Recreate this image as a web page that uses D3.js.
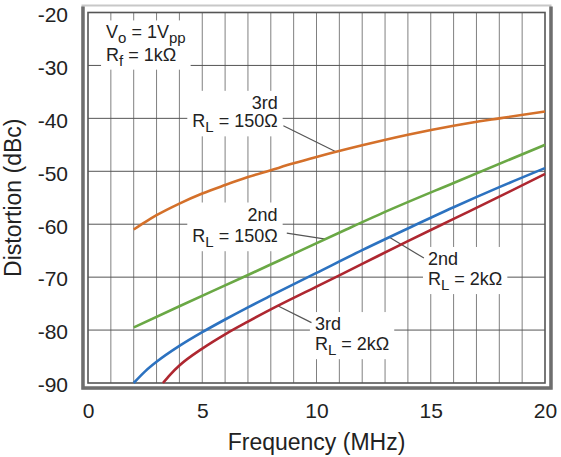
<!DOCTYPE html>
<html>
<head>
<meta charset="utf-8">
<script src="https://cdn.jsdelivr.net/npm/d3@7"></script>
<style>
  body { margin: 0; background: #fff; }
  svg { font-family: "Liberation Sans", Arial, sans-serif; }
</style>
</head>
<body>
<div id="chart"></div>
<script>
const width = 561,
  height = 457,
  margin = { top: 12.5, bottom: 74, left: 88, right: 16 };

// axis ticks
const freqTicks = [0, 5, 10, 15, 20];
const dbTicks = [-90, -80, -70, -60, -50, -40, -30, -20];

// 3rd harmonic, RL = 150 ohm
const freq3rd150 = [2, 2.5, 3, 4, 5, 6, 7, 8, 9, 10, 12, 14, 16, 18, 20];
const db3rd150 = [-61, -59.6, -58.3, -56.1, -54.2, -52.6, -51.1, -49.8, -48.5, -47.3, -45.1, -43.1, -41.4, -40, -38.7];

// 2nd harmonic, RL = 150 ohm
const freq2nd150 = [2, 4, 7, 8.4, 11.3, 13.2, 16, 20];
const db2nd150 = [-79.5, -75.5, -69.6, -66.8, -61, -57.3, -52.2, -45];

// 2nd harmonic, RL = 2k
const freq2nd2k = [2, 2.5, 3, 4, 5, 6, 7, 8, 10, 12, 14, 16, 18, 20];
const db2nd2k = [-90, -87.8, -86, -83, -80.4, -78, -75.7, -73.5, -69.2, -64.9, -60.8, -56.8, -53, -49.4];

// 3rd harmonic, RL = 2k
const freq3rd2k = [3.28, 3.6, 4, 5, 6, 7, 8, 10, 12, 14, 16, 18, 20];
const db3rd2k = [-90, -88.4, -86.7, -83.5, -80.8, -78.4, -76.1, -71.8, -67.5, -63.2, -59, -54.8, -50.5];

const seriesList = [
  { f: freq3rd150, db: db3rd150, color: "#d4702a" },
  { f: freq2nd150, db: db2nd150, color: "#6aa845" },
  { f: freq2nd2k, db: db2nd2k, color: "#2c72c0" },
  { f: freq3rd2k, db: db3rd2k, color: "#ae2730" }
];

const xScale = d3.scaleLinear().domain([0, 20]).range([margin.left, width - margin.right]);
const yScale = d3.scaleLinear().domain([-90, -20]).range([height - margin.bottom, margin.top]);

const svg = d3.select("#chart").append("svg")
  .attr("width", width)
  .attr("height", height);

// outer frame
const x0 = xScale(0), x1 = xScale(20), y0 = yScale(-20), y1 = yScale(-90);
svg.append("rect")
  .attr("x", x0 - 5.5).attr("y", y0 - 7)
  .attr("width", x1 - x0 + 11).attr("height", y1 - y0 + 12.5)
  .attr("fill", "none").attr("stroke", "#c8c8c8").attr("stroke-width", 2);
svg.append("path")
  .attr("d", `M${x0 - 5},${y0 - 6}V${y1 + 5}H${x1 + 6}V${y0 - 6}`)
  .attr("fill", "none").attr("stroke", "#6e6e6e").attr("stroke-width", 3.5);

// grid
svg.append("g")
  .selectAll("line")
  .data(d3.range(1, 20))
  .join("line")
  .attr("x1", d => xScale(d)).attr("x2", d => xScale(d))
  .attr("y1", y0).attr("y2", y1)
  .attr("stroke", "#808080").attr("stroke-width", 1);

svg.append("g")
  .selectAll("line")
  .data(dbTicks.slice(1, -1))
  .join("line")
  .attr("x1", x0).attr("x2", x1)
  .attr("y1", d => yScale(d)).attr("y2", d => yScale(d))
  .attr("stroke", "#555").attr("stroke-width", 1);

svg.append("rect")
  .attr("x", x0).attr("y", y0)
  .attr("width", x1 - x0).attr("height", y1 - y0)
  .attr("fill", "none").attr("stroke", "#555").attr("stroke-width", 1.6);

// tick labels
const xAxis = d3.axisBottom(xScale).tickValues(freqTicks).tickSize(0).tickPadding(20);
const yAxis = d3.axisLeft(yScale).tickValues(dbTicks).tickSize(0).tickPadding(20).tickFormat(d => String(d));

svg.append("g")
  .attr("transform", `translate(0,${y1})`)
  .call(xAxis)
  .call(g => g.select(".domain").remove())
  .selectAll("text")
  .attr("font-size", 21).attr("fill", "#222")
  .attr("font-family", "Liberation Sans, Arial, sans-serif");

svg.append("g")
  .attr("transform", `translate(${x0},0)`)
  .call(yAxis)
  .call(g => g.select(".domain").remove())
  .selectAll("text")
  .attr("font-size", 21).attr("fill", "#222")
  .attr("dy", "0.42em")
  .attr("font-family", "Liberation Sans, Arial, sans-serif");

// axis titles
svg.append("text")
  .attr("x", (x0 + x1) / 2).attr("y", 450)
  .attr("text-anchor", "middle")
  .attr("font-size", 23).attr("fill", "#222")
  .text("Frequency (MHz)");

svg.append("text")
  .attr("transform", `translate(21,${(y0 + y1) / 2}) rotate(-90)`)
  .attr("text-anchor", "middle")
  .attr("font-size", 23).attr("fill", "#222")
  .text("Distortion (dBc)");

// annotations (white boxes behind text)
const annLayer = svg.append("g");
const lineLayer = svg.append("g");

function subLabel(g, x, y, anchor, parts) {
  const t = g.append("text")
    .attr("x", x).attr("y", y)
    .attr("text-anchor", anchor)
    .attr("font-size", 18).attr("fill", "#222");
  parts.forEach(p => {
    t.append("tspan")
      .attr("dy", p.sub ? 5 : (p.after ? -5 : 0))
      .attr("font-size", p.sub ? 15 : 18)
      .text(p.t);
  });
  return t;
}

function annotation(lines, leader) {
  const g = annLayer.append("g");
  lines.forEach(l => subLabel(g, xScale(l.f), yScale(l.db), l.anchor, l.parts));
  const bb = g.node().getBBox();
  g.insert("rect", ":first-child")
    .attr("x", bb.x - 5).attr("y", bb.y - 2)
    .attr("width", bb.width + 10).attr("height", bb.height + 3)
    .attr("fill", "#fff");
  if (leader) {
    lineLayer.append("line")
      .attr("x1", xScale(leader[0])).attr("y1", yScale(leader[1]))
      .attr("x2", xScale(leader[2])).attr("y2", yScale(leader[3]))
      .attr("stroke", "#555").attr("stroke-width", 1.2);
  }
}

annotation([
  { f: 0.79, db: -24.9, anchor: "start", parts: [{ t: "V" }, { t: "o", sub: true }, { t: " = 1V", after: true }, { t: "pp", sub: true }] },
  { f: 0.79, db: -29.1, anchor: "start", parts: [{ t: "R" }, { t: "f", sub: true }, { t: " = 1k\u03A9", after: true }] }
]);

annotation([
  { f: 8.3, db: -38.2, anchor: "end", parts: [{ t: "3rd" }] },
  { f: 8.3, db: -41.7, anchor: "end", parts: [{ t: "R" }, { t: "L", sub: true }, { t: " = 150\u03A9", after: true }] }
], [8.55, -41.4, 10.85, -46.3]);

annotation([
  { f: 8.3, db: -59.3, anchor: "end", parts: [{ t: "2nd" }] },
  { f: 8.3, db: -63.4, anchor: "end", parts: [{ t: "R" }, { t: "L", sub: true }, { t: " = 150\u03A9", after: true }] }
], [8.7, -61.7, 10.4, -62.8]);

annotation([
  { f: 14.88, db: -67.7, anchor: "start", parts: [{ t: "2nd" }] },
  { f: 14.88, db: -71.5, anchor: "start", parts: [{ t: "R" }, { t: "L", sub: true }, { t: " = 2k\u03A9", after: true }] }
], [13.17, -62.4, 14.7, -66.4]);

annotation([
  { f: 9.93, db: -80, anchor: "start", parts: [{ t: "3rd" }] },
  { f: 9.93, db: -83.8, anchor: "start", parts: [{ t: "R" }, { t: "L", sub: true }, { t: " = 2k\u03A9", after: true }] }
], [8.3, -75.4, 9.78, -78.6]);

// curves
const line = d3.line()
  .x(d => xScale(d[0]))
  .y(d => yScale(d[1]))
  .curve(d3.curveMonotoneX);

svg.append("g")
  .selectAll("path")
  .data(seriesList)
  .join("path")
  .attr("d", s => line(s.f.map((f, i) => [f, s.db[i]])))
  .attr("fill", "none")
  .attr("stroke", s => s.color)
  .attr("stroke-width", 2.6);
</script>
</body>
</html>
